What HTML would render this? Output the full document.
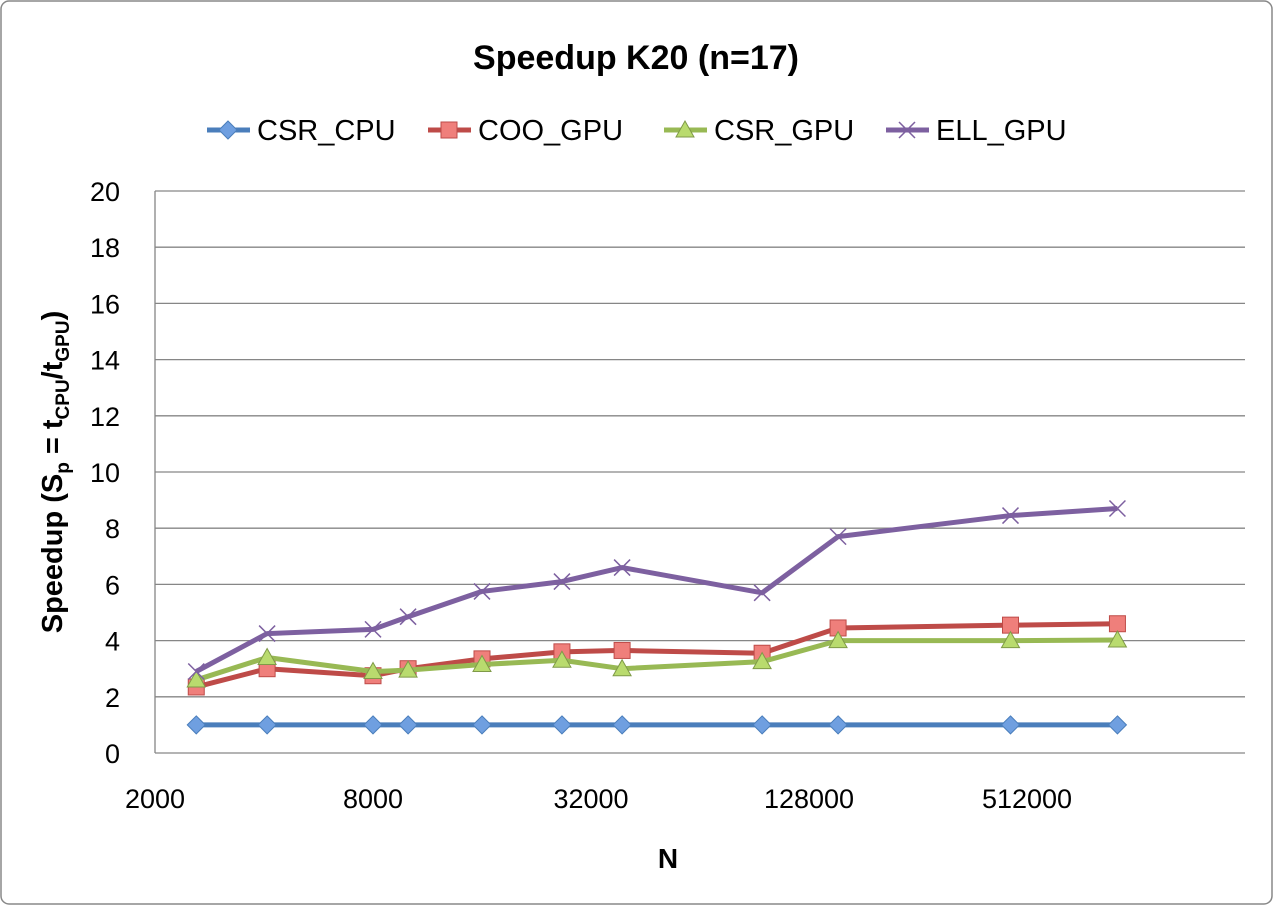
<!DOCTYPE html>
<html><head><meta charset="utf-8">
<style>
html,body{margin:0;padding:0;background:#fff;}
svg{display:block;font-family:"Liberation Sans",Arial,sans-serif;}
</style></head>
<body>
<svg id="chart" width="1273" height="905" viewBox="0 0 1273 905">
<rect x="1" y="1" width="1271" height="903" rx="8" fill="#fff" stroke="#888" stroke-width="1.5"/>
<text x="636" y="69" text-anchor="middle" font-size="34" font-weight="bold" fill="#000">Speedup K20 (n=17)</text>
<g id="legend"></g>
<g id="grid"></g>
<g id="axes"></g>
<g id="series"></g>
<text x="668" y="868" text-anchor="middle" font-size="28" font-weight="bold">N</text>
<text transform="translate(62,472) rotate(-90)" text-anchor="middle" font-size="29" font-weight="bold">Speedup (S<tspan font-size="19" dy="7">p</tspan><tspan dy="-7"> = t</tspan><tspan font-size="19" dy="7">CPU</tspan><tspan dy="-7">/t</tspan><tspan font-size="19" dy="7">GPU</tspan><tspan dy="-7">)</tspan></text>
</svg>
<script>
const xValues = [2600, 4080, 8000, 10000, 16000, 26600, 39000, 95000, 154000, 461000, 910000];
const csrCpu = [1,1,1,1,1,1,1,1,1,1,1];
const cooGpu = [2.35,3.0,2.75,3.0,3.35,3.6,3.65,3.55,4.45,4.55,4.6];
const csrGpu = [2.6,3.4,2.9,2.95,3.15,3.3,3.0,3.25,4.0,4.0,4.02];
const ellGpu = [2.9,4.25,4.4,4.85,5.75,6.1,6.6,5.7,7.7,8.45,8.7];
const yTicks = [0,2,4,6,8,10,12,14,16,18,20];
const xTickLabels = [2000,8000,32000,128000,512000];
const seriesNames = ["CSR_CPU","COO_GPU","CSR_GPU","ELL_GPU"];

const NS="http://www.w3.org/2000/svg";
const L=155,R=1245,T=191,B=753,xMin=2000,xMax=2048000,yMax=20;
const xs=v=>L+(Math.log2(v/xMin))/Math.log2(xMax/xMin)*(R-L);
const ys=v=>B-v/yMax*(B-T);
function mk(tag,attrs,parent){const e=document.createElementNS(NS,tag);for(const k in attrs)e.setAttribute(k,attrs[k]);parent.appendChild(e);return e;}
const grid=document.getElementById('grid'),axes=document.getElementById('axes'),ser=document.getElementById('series'),leg=document.getElementById('legend');
yTicks.forEach(t=>{
  if(t>0){const g=mk('line',{x1:L,x2:R,y1:ys(t),y2:ys(t),stroke:'#868686','stroke-width':1.3},grid);
  
  }
  const tx=mk('text',{x:L-35,y:ys(t)+10,'text-anchor':'end','font-size':27},axes);tx.textContent=t;
  
  
});
const ax=mk('line',{x1:L,x2:L,y1:T,y2:B,stroke:'#868686','stroke-width':1.3},axes);


const bx=mk('line',{x1:L,x2:R,y1:B,y2:B,stroke:'#868686','stroke-width':1.3},axes);


xTickLabels.forEach(t=>{
  const tx=mk('text',{x:xs(t),y:B+55,'text-anchor':'middle','font-size':27},axes);tx.textContent=t;
  
  
});
const colors=["#4a7ebb","#be4b48","#98b954","#7d60a0"];
const fills=["#6f9fe0","#ef7f7b","#b9db6e","#7d60a0"];
const data=[csrCpu,cooGpu,csrGpu,ellGpu];
function marker(i,x,y,p){
  if(i===0)return mk('polygon',{points:`${x},${y-9} ${x+9},${y} ${x},${y+9} ${x-9},${y}`,fill:fills[0],stroke:colors[0],'stroke-width':1},p);
  if(i===1)return mk('rect',{x:x-8,y:y-8,width:16,height:16,fill:fills[1],stroke:colors[1],'stroke-width':1},p);
  if(i===2)return mk('polygon',{points:`${x},${y-9} ${x+9},${y+7} ${x-9},${y+7}`,fill:fills[2],stroke:'#7f9a48','stroke-width':1},p);
  return mk('path',{d:`M${x-8},${y-8}L${x+8},${y+8}M${x+8},${y-8}L${x-8},${y+8}`,stroke:colors[3],'stroke-width':1.5,fill:'none'},p);
}
data.forEach((arr,i)=>{
  const g=mk('g',{},ser);
  
  
  const pts=arr.map((v,j)=>xs(xValues[j])+','+ys(v)).join(' ');
  const pl=mk('polyline',{points:pts,fill:'none',stroke:colors[i],'stroke-width':5,'stroke-linejoin':'round'},g);
  
  
  arr.forEach((v,j)=>{const m=marker(i,xs(xValues[j]),ys(v),g);
    
    });
  const lx=[207,428,664,886][i],ly=130;
  const lg=mk('g',{},leg);
  
  
  mk('line',{x1:lx,x2:lx+43,y1:ly,y2:ly,stroke:colors[i],'stroke-width':5},lg);
  marker(i,lx+21,ly,lg);
  const t=mk('text',{x:lx+50,y:ly+10,'font-size':29},lg);t.textContent=seriesNames[i];
});
</script>
</body></html>
